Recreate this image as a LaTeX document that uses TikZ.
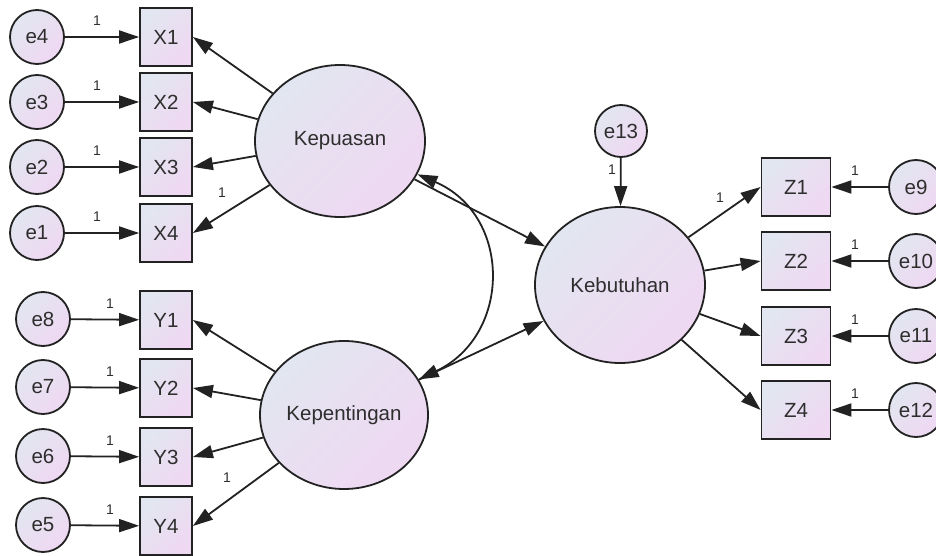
\documentclass[tikz,border=0pt]{standalone}
\usepackage{fontspec}
\setmainfont{Liberation Sans}
\usetikzlibrary{arrows.meta,shapes.geometric}
\definecolor{gA}{HTML}{E2E6F0}
\definecolor{gB}{HTML}{EFD8F2}
\definecolor{ln}{HTML}{222222}
\definecolor{tx}{HTML}{2E2E2E}
\begin{document}
\begin{tikzpicture}[x=1pt,y=-1pt,
  base/.style={draw=ln, line width=1.8pt, text=tx, font=\fontsize{20.5}{24}\selectfont,
    left color=gA, right color=gB, shading angle=45},
  err/.style={base, circle, minimum size=54pt, inner sep=0pt},
  obs/.style={base, rectangle, minimum width=52pt, minimum height=58pt, inner sep=0pt},
  obsz/.style={obs, minimum width=69pt},
  lat/.style={base, ellipse, inner sep=0pt},
  arr/.style={-{Triangle[length=20pt,width=13pt]}, line width=1.8pt, draw=ln},
  darr/.style={{Triangle[length=20pt,width=13pt]}-{Triangle[length=20pt,width=13pt]}, line width=1.8pt, draw=ln},
  one/.style={font=\fontsize{14}{16}\selectfont, text=tx, inner sep=0pt}]
\useasboundingbox (0,0) rectangle (936,556);
\fill[white] (0,0) rectangle (936,556);

% latent variables
\node[lat, minimum width=170pt, minimum height=152pt] (kp) at (340,141) {Kepuasan};
\node[lat, minimum width=168pt, minimum height=148pt] (kt) at (344,415) {Kepentingan};
\node[lat, minimum width=170pt, minimum height=156pt] (kb) at (620,285) {Kebutuhan};

% X block
\node[obs] (X1) at (166,37) {X1};
\node[obs] (X2) at (166,102) {X2};
\node[obs] (X3) at (166,167) {X3};
\node[obs] (X4) at (166,233) {X4};
\node[err] (e4) at (37,37) {e4};
\node[err] (e3) at (37,102) {e3};
\node[err] (e2) at (37,167) {e2};
\node[err] (e1) at (37,233) {e1};

% Y block
\node[obs] (Y1) at (166,320) {Y1};
\node[obs] (Y2) at (166,388) {Y2};
\node[obs] (Y3) at (166,457) {Y3};
\node[obs] (Y4) at (166,526) {Y4};
\node[err] (e8) at (43,319) {e8};
\node[err] (e7) at (43,387) {e7};
\node[err] (e6) at (43,456) {e6};
\node[err] (e5) at (43,525) {e5};

% Z block
\node[obsz] (Z1) at (796,187) {Z1};
\node[obsz] (Z2) at (796,261) {Z2};
\node[obsz] (Z3) at (796,336) {Z3};
\node[obsz] (Z4) at (796,410) {Z4};
\node[err] (e9) at (916,187) {e9};
\node[err] (e10) at (916,261) {e10};
\node[err] (e11) at (916,336) {e11};
\node[err] (e12) at (916,410) {e12};

\node[err, minimum size=52pt] (e13) at (621,131) {e13};

% error arrows
\foreach \e/\v in {e4/X1,e3/X2,e2/X3,e1/X4,e8/Y1,e7/Y2,e6/Y3,e5/Y4,e9/Z1,e10/Z2,e11/Z3,e12/Z4}
  \draw[arr] (\e) -- (\v);
\draw[arr] (e13) -- (kb);

% loadings
\foreach \v in {X1,X2,X3,X4} \draw[arr] (kp) -- (\v.east);
\foreach \v in {Y1,Y2,Y3,Y4} \draw[arr] (kt) -- (\v.east);
\foreach \v in {Z1,Z2,Z3,Z4} \draw[arr] (kb) -- (\v.west);

% structural paths
\draw[arr] (kp) -- (kb);
\draw[arr] (kt) -- (kb);
\draw[darr] (kp) .. controls (512,215) and (512,335) .. (kt);

% labels "1"
\node[one] (l1) at (97,21) {1};
\node[one] (l2) at (97,86) {1};
\node[one] (l3) at (97,151) {1};
\node[one] (l4) at (97,217) {1};
\node[one] (l5) at (222,193) {1};
\node[one] (l6) at (110,304) {1};
\node[one] (l7) at (110,372) {1};
\node[one] (l8) at (110,441) {1};
\node[one] (l9) at (110,510) {1};
\node[one] (l10) at (227,478) {1};
\node[one] (l11) at (612,170) {1};
\node[one] (l12) at (720,198) {1};
\node[one] (l13) at (855,171) {1};
\node[one] (l14) at (855,245) {1};
\node[one] (l15) at (855,320) {1};
\node[one] (l16) at (855,394) {1};
\end{tikzpicture}
\end{document}
